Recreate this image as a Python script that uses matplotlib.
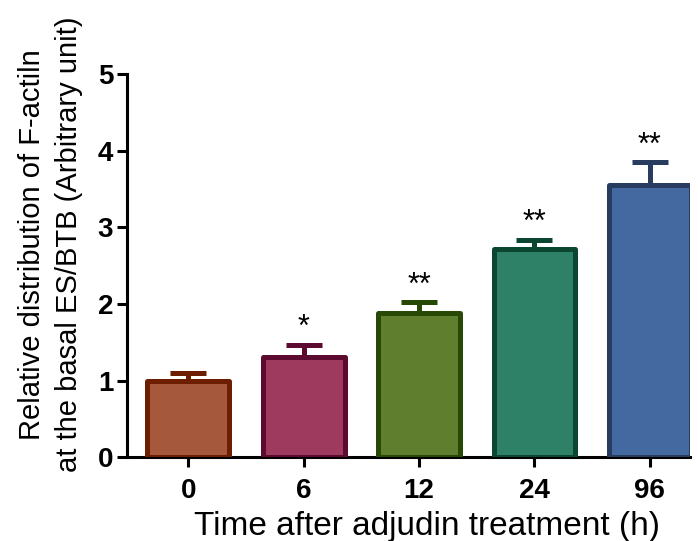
import matplotlib

matplotlib.use("Agg")

import matplotlib.pyplot as plt

plt.rcParams['font.family'] = ['Liberation Sans', 'DejaVu Sans']

# data
times = ['0', '6', '12', '24', '96']
means = [1.00, 1.31, 1.88, 2.72, 3.55]
errs = [0.10, 0.16, 0.14, 0.12, 0.30]
stars = ['', '*', '**', '**', '**']

fills = ['#A5583C', '#9E3A5E', '#5F7E2E', '#2E8066', '#4468A0']
edges = ['#6E1E00', '#5C0A30', '#284806', '#0A4630', '#283C60']

fig = plt.figure(figsize=(6.98, 5.41), dpi=100)
ax = fig.add_axes([0.182, 0.155, 0.807, 0.708])

pos = list(range(len(times)))
bars = ax.bar(pos, means, width=0.71, color=fills, edgecolor=edges,
              linewidth=3.6, zorder=3)
for b in bars:
    b.set_joinstyle('round')

for i in pos:
    ax.errorbar(i, means[i], yerr=[[0], [errs[i]]], fmt='none',
                ecolor=edges[i], elinewidth=3.6, capsize=13, capthick=3.6,
                zorder=2)
    if stars[i]:
        ax.text(i, means[i] + errs[i] + 0.02, stars[i], ha='center',
                va='bottom', fontsize=22)

ax.set_xlim(-0.53, 4.35)
ax.set_ylim(0, 5)
ax.set_yticks([0, 1, 2, 3, 4, 5])
ax.set_xticks(pos)
ax.set_xticklabels(times)

for side in ['top', 'right']:
    ax.spines[side].set_visible(False)
for side in ['left', 'bottom']:
    ax.spines[side].set_linewidth(2.2)

ax.tick_params(width=2.2, length=7, labelsize=20)
ax.tick_params(axis='x', pad=8)
ax.tick_params(axis='y', pad=3)
for lab in ax.get_xticklabels() + ax.get_yticklabels():
    lab.set_fontweight('bold')

ax.set_xlabel('Time after adjudin treatment (h)', fontsize=24)
ax.set_ylabel('Relative distribution of F-actiln\nat the basal ES/BTB (Arbitrary unit)',
              fontsize=21, linespacing=1.4)
ax.xaxis.set_label_coords(0.533, -0.14)
ax.yaxis.set_label_coords(-0.079, 0.556)

plt.savefig('out.png', dpi=100)
